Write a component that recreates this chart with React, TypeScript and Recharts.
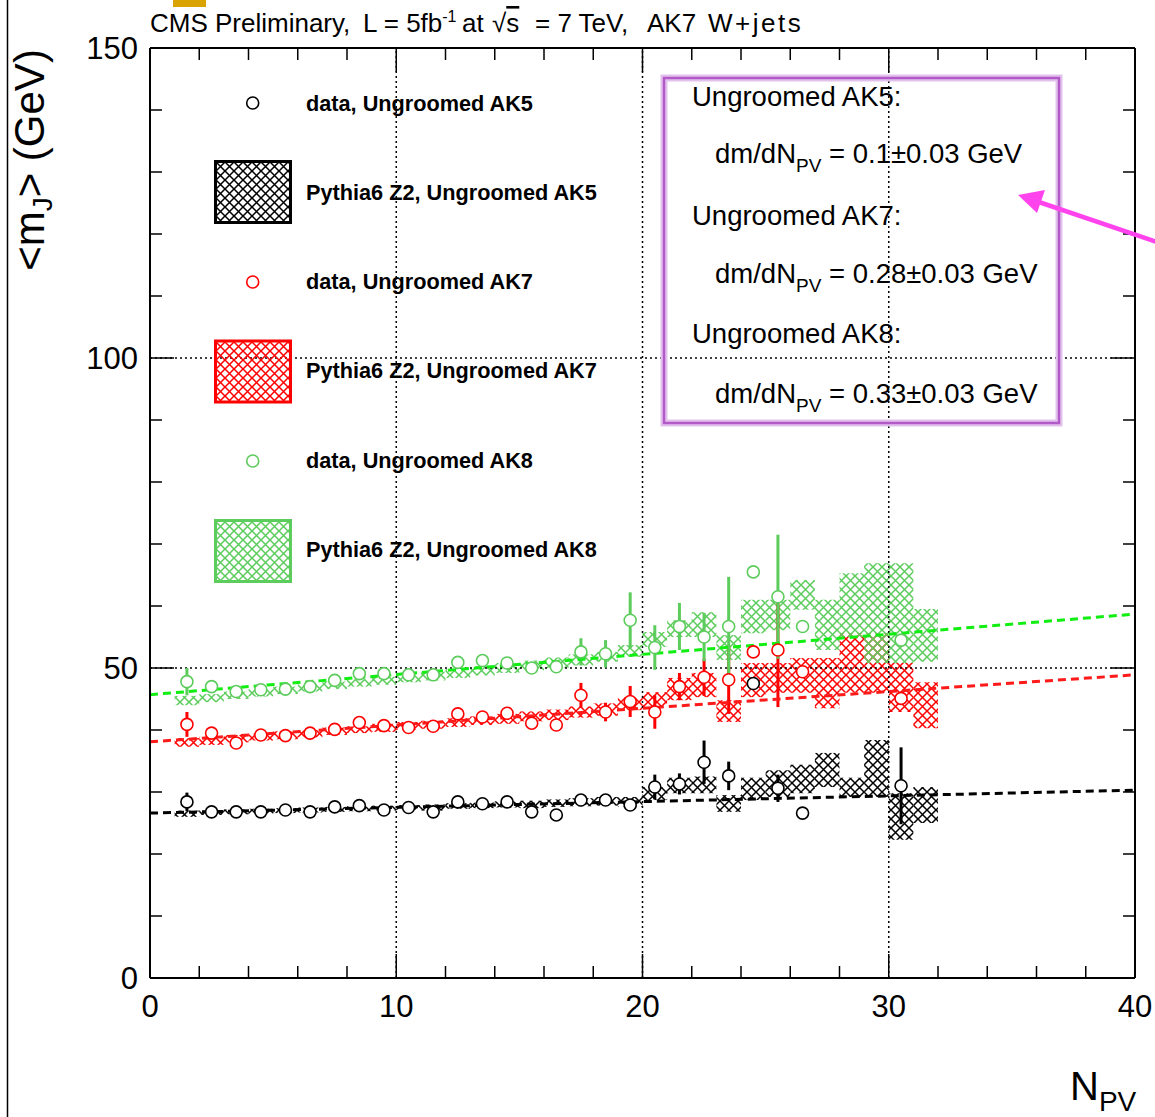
import React from "react";
import {
  ScatterChart,
  Scatter,
  XAxis,
  YAxis,
  ErrorBar,
  ReferenceArea,
  ReferenceLine,
} from "recharts";

const W = 1155;
const H = 1117;
const FONT = "'Liberation Sans', Arial, Helvetica, sans-serif";

// data points: N_PV bin centres
const npv = [
  1.5, 2.5, 3.5, 4.5, 5.5, 6.5, 7.5, 8.5, 9.5, 10.5, 11.5, 12.5, 13.5, 14.5,
  15.5, 16.5, 17.5, 18.5, 19.5, 20.5, 21.5, 22.5, 23.5, 24.5, 25.5, 26.5, 30.5,
];

const ak5Mean = [
  28.4, 26.8, 26.8, 26.8, 27.1, 26.8, 27.6, 27.8, 27.1, 27.5, 26.8, 28.4, 28.1,
  28.4, 26.8, 26.3, 28.7, 28.7, 27.9, 30.8, 31.3, 34.8, 32.6, 47.5, 30.6, 26.6,
  31.0,
];
const ak5Err = [
  1.5, 0, 0, 0, 0, 0, 0, 0, 0, 0, 0, 0, 0, 0, 0, 0, 0, 0, 0, 2.0, 1.7, 3.5, 2.3,
  0, 2.2, 0, 6.2,
];

const ak7Mean = [
  40.9, 39.5, 37.9, 39.2, 39.1, 39.5, 40.1, 41.2, 40.7, 40.4, 40.6, 42.6, 42.1,
  42.7, 41.1, 40.8, 45.6, 42.9, 44.6, 42.9, 47.0, 48.5, 48.1, 52.6, 52.9, 49.4,
  45.1,
];
const ak7Err = [
  2.0, 0, 0, 0, 0, 0, 0, 0, 0, 0, 0, 0, 0, 0, 0, 0, 2.0, 1.5, 2.5, 2.7, 2.2, 3.0,
  5.5, 0, 9.2, 0, 0,
];

const ak8Mean = [
  47.8, 47.0, 46.2, 46.5, 46.6, 47.0, 48.0, 49.1, 49.1, 48.9, 48.9, 50.9, 51.2,
  50.8, 50.0, 50.2, 52.6, 52.3, 57.7, 53.3, 56.7, 55.0, 56.7, 65.5, 61.5, 56.7,
  54.5,
];
const ak8Err = [
  2.2, 0, 0, 0, 0, 0, 0, 0, 0, 0, 0, 0, 0, 0, 0, 0, 2.2, 2.2, 4.5, 3.6, 3.8, 3.9,
  8.0, 0, 10.0, 0, 0,
];

// MC bands (Pythia6 Z2): bin edges and band low / high per bin
const binEdges = [
  1, 2, 3, 4, 5, 6, 7, 8, 9, 10, 11, 12, 13, 14, 15, 16, 17, 18, 19, 20, 21, 22,
  23, 24, 25, 26, 27, 28, 29, 30, 31, 32,
];
const ak5McLo = [
  26.0, 26.3, 26.4, 26.5, 26.6, 26.7, 26.8, 26.9, 27.0, 27.1, 27.0, 27.3, 27.4,
  27.5, 27.4, 27.6, 27.7, 27.8, 27.6, 28.7, 29.8, 29.8, 26.8, 28.7, 29.2, 29.8,
  30.8, 29.2, 29.2, 22.3, 25.0,
];
const ak5McHi = [
  27.0, 27.1, 27.2, 27.3, 27.4, 27.5, 27.6, 27.7, 27.8, 27.9, 28.0, 28.2, 28.3,
  28.5, 28.6, 28.8, 29.0, 29.2, 29.2, 30.8, 32.3, 32.5, 29.5, 32.3, 33.5, 34.4,
  36.3, 32.3, 38.4, 29.8, 30.8,
];
const ak7McLo = [
  37.3, 37.6, 38.0, 38.3, 38.5, 38.8, 39.2, 39.5, 39.7, 40.0, 40.2, 40.5, 40.8,
  41.0, 41.4, 41.6, 42.0, 42.3, 43.2, 43.7, 44.8, 45.3, 41.3, 45.3, 46.0, 46.0,
  43.5, 46.0, 46.0, 42.9, 40.3,
];
const ak7McHi = [
  38.7, 38.9, 39.2, 39.5, 39.8, 40.0, 40.4, 40.6, 41.0, 41.3, 41.5, 41.9, 42.2,
  42.6, 43.0, 43.3, 43.8, 44.3, 45.3, 46.1, 48.4, 49.2, 44.8, 50.8, 50.8, 51.6,
  51.6, 55.6, 55.6, 50.8, 47.7,
];
const ak8McLo = [
  44.0, 44.5, 45.0, 45.4, 45.8, 46.2, 46.6, 47.0, 47.3, 47.7, 48.0, 48.4, 48.8,
  49.2, 49.6, 50.0, 50.4, 51.0, 51.8, 53.4, 55.0, 55.0, 51.3, 55.6, 56.1, 59.4,
  52.9, 55.0, 50.8, 50.8, 51.0,
];
const ak8McHi = [
  45.5, 45.8, 46.2, 46.6, 47.0, 47.4, 47.8, 48.2, 48.6, 49.0, 49.4, 49.8, 50.3,
  50.8, 51.2, 51.7, 52.2, 52.6, 53.7, 55.8, 57.7, 59.0, 55.3, 61.0, 61.0, 64.2,
  61.0, 65.3, 66.9, 66.9, 59.5,
];

// linear fits, value at N_PV = 0 and 40
const fitX = [0, 40];
const ak5Fit = [26.6, 30.3];
const ak7Fit = [38.1, 48.9];
const ak8Fit = [45.7, 58.7];

const xTicks = [
  0, 2, 4, 6, 8, 10, 12, 14, 16, 18, 20, 22, 24, 26, 28, 30, 32, 34, 36, 38, 40,
];
const xLabels = [0, 10, 20, 30, 40];
const yTicks = [0, 10, 20, 30, 40, 50, 60, 70, 80, 90, 100, 110, 120, 130, 140, 150];
const yLabels = [0, 50, 100, 150];
const gridX = [10, 20, 30];
const gridY = [50, 100];

const legendLabels = [
  "data, Ungroomed AK5",
  "Pythia6 Z2, Ungroomed AK5",
  "data, Ungroomed AK7",
  "Pythia6 Z2, Ungroomed AK7",
  "data, Ungroomed AK8",
  "Pythia6 Z2, Ungroomed AK8",
];

const fitLines = [
  ["Ungroomed AK5:", "0.1±0.03 GeV"],
  ["Ungroomed AK7:", "0.28±0.03 GeV"],
  ["Ungroomed AK8:", "0.33±0.03 GeV"],
];

const BLACK = "#000000";
const RED = "#ff0000";
const GREEN = "#5ccc5c";
const FIT_GREEN = "#11ee11";

const series = [
  { key: "ak5", color: BLACK, fit: BLACK, mean: ak5Mean, err: ak5Err, lo: ak5McLo, hi: ak5McHi, line: ak5Fit },
  { key: "ak7", color: RED, fit: "#ff1a1a", mean: ak7Mean, err: ak7Err, lo: ak7McLo, hi: ak7McHi, line: ak7Fit },
  { key: "ak8", color: GREEN, fit: FIT_GREEN, mean: ak8Mean, err: ak8Err, lo: ak8McLo, hi: ak8McHi, line: ak8Fit },
];

const MAJOR = 24;
const MINOR = 12;

function BottomTick(p: any) {
  const v = p.payload.value;
  const major = xLabels.includes(v);
  return (
    <g>
      {v > 0 && v < 40 && (
        <line x1={p.x} x2={p.x} y1={p.y} y2={p.y - (major ? MAJOR : MINOR)} stroke="#000" strokeWidth={1.5} />
      )}
      {major && (
        <text x={p.x} y={p.y + 39} textAnchor="middle" fontSize={31} fontFamily={FONT} fill="#000">
          {v}
        </text>
      )}
    </g>
  );
}

function TopTick(p: any) {
  const v = p.payload.value;
  if (v <= 0 || v >= 40) return <g />;
  const major = xLabels.includes(v);
  return <line x1={p.x} x2={p.x} y1={p.y} y2={p.y + (major ? MAJOR : MINOR)} stroke="#000" strokeWidth={1.5} />;
}

function LeftTick(p: any) {
  const v = p.payload.value;
  const major = yLabels.includes(v);
  return (
    <g>
      {v > 0 && v < 150 && (
        <line x1={p.x} x2={p.x + (major ? MAJOR : MINOR)} y1={p.y} y2={p.y} stroke="#000" strokeWidth={1.5} />
      )}
      {major && (
        <text x={p.x - 12} y={p.y + 11} textAnchor="end" fontSize={31} fontFamily={FONT} fill="#000">
          {v}
        </text>
      )}
    </g>
  );
}

function RightTick(p: any) {
  const v = p.payload.value;
  if (v <= 0 || v >= 150) return <g />;
  const major = yLabels.includes(v);
  return <line x1={p.x} x2={p.x - (major ? MAJOR : MINOR)} y1={p.y} y2={p.y} stroke="#000" strokeWidth={1.5} />;
}

function Hatch({ id, color }: { id: string; color: string }) {
  return (
    <pattern id={id} patternUnits="userSpaceOnUse" width={9} height={9}>
      <path d="M-1,-1 L10,10 M10,-1 L-1,10" stroke={color} strokeWidth={1.5} />
    </pattern>
  );
}

function Overlay() {
  const rows = [110.5, 200, 288.5, 377.5, 467.5, 557];
  const circleY = [103, 282, 461];
  const boxY = [161.5, 341, 520.5];
  const cols = [BLACK, RED, GREEN];
  const textBase = [106, 163, 225, 283, 343, 403];
  return (
    <svg width={W} height={H} style={{ position: "absolute", left: 0, top: 0, pointerEvents: "none" }}>
      <defs>
        <Hatch id="hatch-ak5" color={BLACK} />
        <Hatch id="hatch-ak7" color={RED} />
        <Hatch id="hatch-ak8" color={GREEN} />
      </defs>
      <line x1={7.5} x2={7.5} y1={0} y2={H} stroke="#000" strokeWidth={1.5} />
      <rect x={173} y={0} width={33} height={7} fill="#d9a400" />

      <text y={32} fontSize={26} fontFamily={FONT} fill="#000">
        <tspan x={150}>CMS Preliminary,</tspan>
        <tspan x={363}>L = 5fb</tspan>
        <tspan fontSize={16} dy={-10}>-1</tspan>
        <tspan x={462} dy={10}>at</tspan>
        <tspan x={492}>√</tspan>
        <tspan style={{ textDecoration: "overline" }}>s</tspan>
        <tspan x={535}>= 7 TeV,</tspan>
        <tspan x={647}>AK7</tspan>
        <tspan x={708} letterSpacing={2.5}>W+jets</tspan>
      </text>

      <text transform="rotate(-90)" x={-160} y={44} textAnchor="middle" fontSize={42} fontFamily={FONT} fill="#000">
        &lt;m<tspan fontSize={28} dy={8}>J</tspan>
        <tspan dy={-8}>&gt; (GeV)</tspan>
      </text>

      <text x={1070} y={1100} fontSize={40} fontFamily={FONT} fill="#000">
        N<tspan fontSize={28} dy={11}>PV</tspan>
      </text>

      {/* legend */}
      {cols.map((c, i) => (
        <g key={"leg" + i}>
          <circle cx={252.7} cy={circleY[i]} r={6} fill="none" stroke={c} strokeWidth={1.6} />
          <rect x={215.5} y={boxY[i]} width={75} height={61} fill={`url(#hatch-ak${[5, 7, 8][i]})`} stroke={c} strokeWidth={3} />
        </g>
      ))}
      {legendLabels.map((t, i) => (
        <text key={t} x={306} y={rows[i]} fontSize={21.7} fontWeight="bold" fontFamily={FONT} fill="#000">
          {t}
        </text>
      ))}

      {/* fit result box */}
      <rect x={664} y={78} width={395} height={345} fill="none" stroke="#e2c2ec" strokeWidth={7} />
      <rect x={664} y={78} width={395} height={345} fill="none" stroke="#b35ac9" strokeWidth={2.5} />
      {fitLines.map((f, i) => (
        <g key={f[0]}>
          <text x={692} y={textBase[i * 2]} fontSize={27.5} fontFamily={FONT} fill="#000">
            {f[0]}
          </text>
          <text x={715} y={textBase[i * 2 + 1]} fontSize={27.5} fontFamily={FONT} fill="#000">
            dm/dN<tspan fontSize={19} dy={9}>PV</tspan>
            <tspan dy={-9}> = {f[1]}</tspan>
          </text>
        </g>
      ))}

      {/* arrow */}
      <line x1={1160} y1={243} x2={1030} y2={199} stroke="#ff44ee" strokeWidth={4.5} />
      <polygon points="1018,195 1045,190 1037,213" fill="#ff44ee" />
    </svg>
  );
}

export default function App() {
  return (
    <div style={{ position: "absolute", left: 0, top: 0, width: W, height: H, background: "#fff" }}>
      <ScatterChart width={W} height={H} margin={{ top: 0, right: 0, bottom: 0, left: 0 }}>
        <XAxis
          type="number"
          dataKey="x"
          domain={[0, 40]}
          ticks={xTicks}
          interval={0}
          allowDataOverflow
          tickSize={0}
          tickMargin={0}
          tickLine={false}
          axisLine={{ stroke: "#000", strokeWidth: 2 }}
          tick={(p: any) => <BottomTick {...p} />}
          height={139}
        />
        <XAxis
          xAxisId="top"
          orientation="top"
          type="number"
          dataKey="x"
          domain={[0, 40]}
          ticks={xTicks}
          interval={0}
          allowDataOverflow
          tickSize={0}
          tickMargin={0}
          tickLine={false}
          axisLine={{ stroke: "#000", strokeWidth: 2 }}
          tick={(p: any) => <TopTick {...p} />}
          height={48}
        />
        <YAxis
          type="number"
          dataKey="y"
          domain={[0, 150]}
          ticks={yTicks}
          interval={0}
          allowDataOverflow
          tickSize={0}
          tickMargin={0}
          tickLine={false}
          axisLine={{ stroke: "#000", strokeWidth: 2 }}
          tick={(p: any) => <LeftTick {...p} />}
          width={150}
        />
        <YAxis
          yAxisId="right"
          orientation="right"
          type="number"
          dataKey="y"
          domain={[0, 150]}
          ticks={yTicks}
          interval={0}
          allowDataOverflow
          tickSize={0}
          tickMargin={0}
          tickLine={false}
          axisLine={{ stroke: "#000", strokeWidth: 2 }}
          tick={(p: any) => <RightTick {...p} />}
          width={20}
        />

        {gridX.map((g) => (
          <ReferenceLine key={"gx" + g} x={g} stroke="#000" strokeWidth={1.5} strokeDasharray="2 3" />
        ))}
        {gridY.map((g) => (
          <ReferenceLine key={"gy" + g} y={g} stroke="#000" strokeWidth={1.5} strokeDasharray="2 3" />
        ))}

        {series.map((s) =>
          s.lo.map((lo, i) => (
            <ReferenceArea
              key={s.key + "mc" + i}
              x1={binEdges[i]}
              x2={binEdges[i + 1]}
              y1={lo}
              y2={s.hi[i]}
              fill={`url(#hatch-${s.key})`}
              fillOpacity={1}
              stroke="none"
              ifOverflow="visible"
            />
          ))
        )}

        {series.map((s) => (
          <Scatter
            key={s.key}
            data={npv.map((x, i) => ({ x, y: s.mean[i], err: s.err[i] }))}
            dataKey="y"
            isAnimationActive={false}
            shape={(p: any) => (
              <circle cx={p.cx} cy={p.cy} r={6} fill="#fff" stroke={s.color} strokeWidth={1.6} />
            )}
          >
            <ErrorBar dataKey="err" direction="y" width={0} strokeWidth={3} stroke={s.color} />
          </Scatter>
        ))}

        {series.map((s) => (
          <ReferenceLine
            key={s.key + "fit"}
            segment={[
              { x: fitX[0], y: s.line[0] },
              { x: fitX[1], y: s.line[1] },
            ]}
            stroke={s.fit}
            strokeWidth={3}
            strokeDasharray="8 5"
            ifOverflow="visible"
          />
        ))}
      </ScatterChart>
      <Overlay />
    </div>
  );
}
